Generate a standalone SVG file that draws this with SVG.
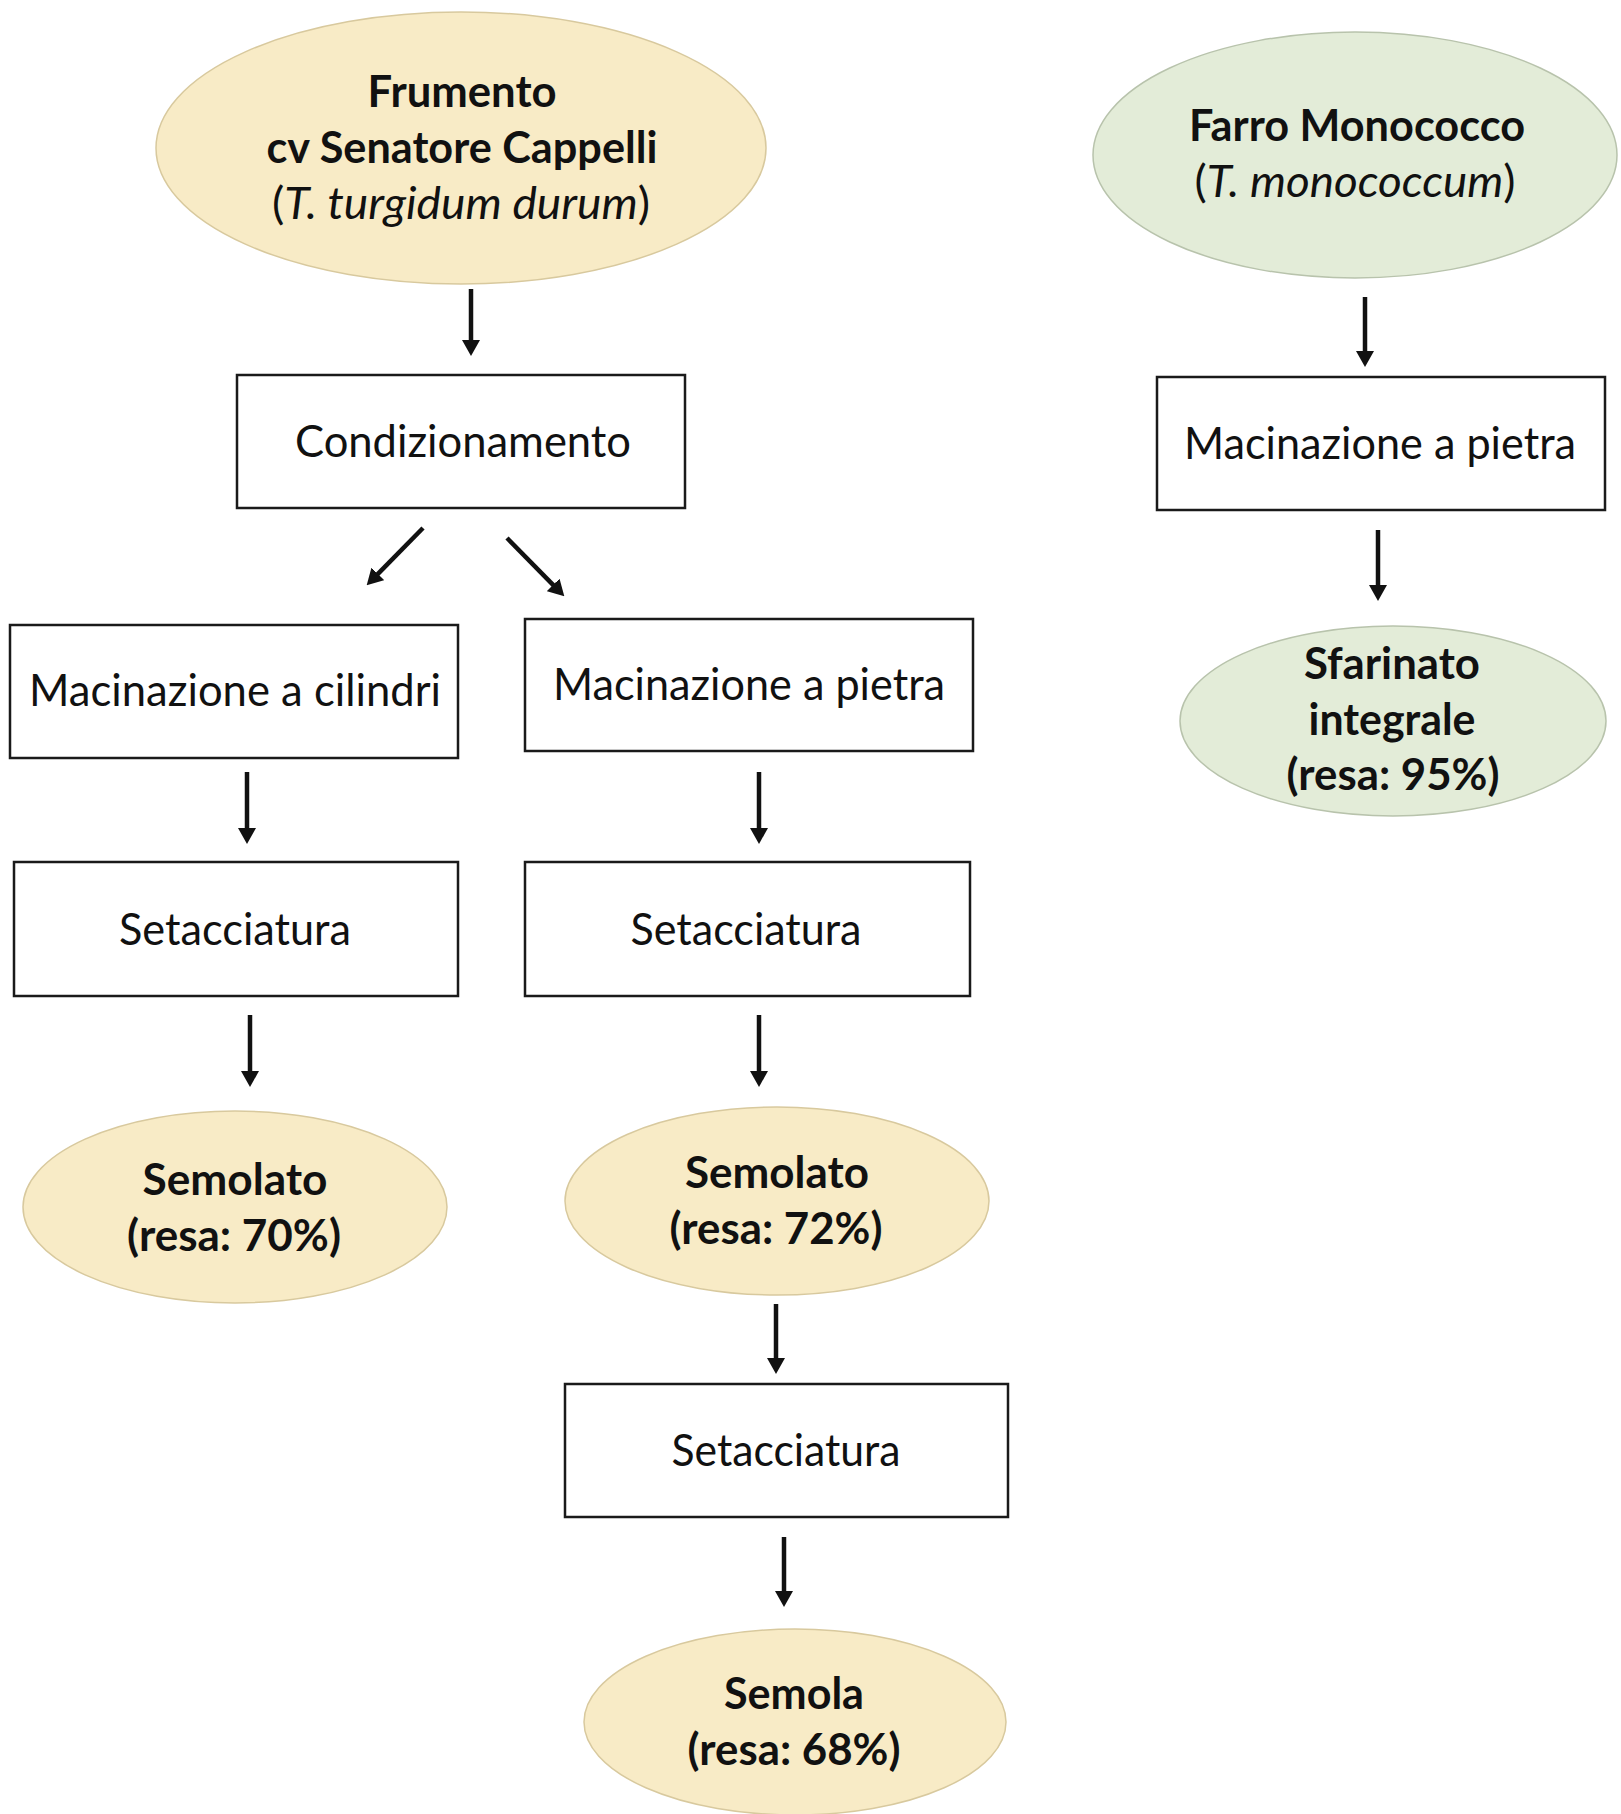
<svg xmlns="http://www.w3.org/2000/svg" width="1621" height="1814" viewBox="0 0 1621 1814">
<defs>
<style>
.box{fill:#ffffff;stroke:#1a1a1a;stroke-width:2.5}
.yel{fill:#F8EBC6;stroke:#D8C99E;stroke-width:1.5}
.grn{fill:#E3ECD8;stroke:#B8C3AC;stroke-width:1.5}
.t{font-family:Lato,"Open Sans","Liberation Sans",sans-serif;font-size:44px;fill:#111;text-anchor:middle}
.b{font-weight:bold}
.i{font-style:italic}
.arr{stroke:#111;stroke-width:4.5;fill:none;marker-end:url(#ah)}
</style>
<marker id="ah" viewBox="0 0 16 18" refX="1" refY="9" markerWidth="16" markerHeight="18" markerUnits="userSpaceOnUse" orient="auto">
<path d="M0,0 L16,9 L0,18 z" fill="#111"/>
</marker>
</defs>
<rect width="1621" height="1814" fill="#ffffff"/>

<g id="frumento">
<ellipse class="yel" cx="461" cy="148" rx="305" ry="136"/>
<text class="t b" x="462" y="107" textLength="189" lengthAdjust="spacingAndGlyphs">Frumento</text>
<text class="t b" x="462" y="163" textLength="391" lengthAdjust="spacingAndGlyphs">cv Senatore Cappelli</text>
<text class="t" x="461" y="219" textLength="378" lengthAdjust="spacingAndGlyphs">(<tspan class="i">T. turgidum durum</tspan>)</text>
</g>

<g id="farro">
<ellipse class="grn" cx="1355" cy="155" rx="262" ry="123"/>
<text class="t b" x="1357" y="141" textLength="336" lengthAdjust="spacingAndGlyphs">Farro Monococco</text>
<text class="t" x="1355" y="197" textLength="321" lengthAdjust="spacingAndGlyphs">(<tspan class="i">T. monococcum</tspan>)</text>
</g>

<g id="condizionamento">
<rect class="box" x="237" y="375" width="448" height="133"/>
<text class="t" x="463" y="457" textLength="336" lengthAdjust="spacingAndGlyphs">Condizionamento</text>
</g>

<g id="mac_cilindri">
<rect class="box" x="10" y="625" width="448" height="133"/>
<text class="t" x="235" y="706" textLength="412" lengthAdjust="spacingAndGlyphs">Macinazione a cilindri</text>
</g>

<g id="mac_pietra_1">
<rect class="box" x="525" y="619" width="448" height="132"/>
<text class="t" x="749" y="700" textLength="392" lengthAdjust="spacingAndGlyphs">Macinazione a pietra</text>
</g>

<g id="setacciatura_1">
<rect class="box" x="14" y="862" width="444" height="134"/>
<text class="t" x="235" y="945" textLength="232" lengthAdjust="spacingAndGlyphs">Setacciatura</text>
</g>

<g id="setacciatura_2">
<rect class="box" x="525" y="862" width="445" height="134"/>
<text class="t" x="746" y="945" textLength="231" lengthAdjust="spacingAndGlyphs">Setacciatura</text>
</g>

<g id="semolato_70">
<ellipse class="yel" cx="235" cy="1207" rx="212" ry="96"/>
<text class="t b" x="235" y="1195" textLength="185" lengthAdjust="spacingAndGlyphs">Semolato</text>
<text class="t b" x="234" y="1251" textLength="214" lengthAdjust="spacingAndGlyphs">(resa: 70%)</text>
</g>

<g id="semolato_72">
<ellipse class="yel" cx="777" cy="1201" rx="212" ry="94"/>
<text class="t b" x="777" y="1188" textLength="184" lengthAdjust="spacingAndGlyphs">Semolato</text>
<text class="t b" x="776" y="1244" textLength="213" lengthAdjust="spacingAndGlyphs">(resa: 72%)</text>
</g>

<g id="setacciatura_3">
<rect class="box" x="565" y="1384" width="443" height="133"/>
<text class="t" x="786" y="1466" textLength="229" lengthAdjust="spacingAndGlyphs">Setacciatura</text>
</g>

<g id="semola">
<ellipse class="yel" cx="795" cy="1722" rx="211" ry="93"/>
<text class="t b" x="794" y="1709" textLength="140" lengthAdjust="spacingAndGlyphs">Semola</text>
<text class="t b" x="794" y="1765" textLength="213" lengthAdjust="spacingAndGlyphs">(resa: 68%)</text>
</g>

<g id="mac_pietra_2">
<rect class="box" x="1157" y="377" width="448" height="133"/>
<text class="t" x="1380" y="459" textLength="392" lengthAdjust="spacingAndGlyphs">Macinazione a pietra</text>
</g>

<g id="sfarinato">
<ellipse class="grn" cx="1393" cy="721" rx="213" ry="95"/>
<text class="t b" x="1392" y="679" textLength="176" lengthAdjust="spacingAndGlyphs">Sfarinato</text>
<text class="t b" x="1392" y="735" textLength="167" lengthAdjust="spacingAndGlyphs">integrale</text>
<text class="t b" x="1393" y="790" textLength="213" lengthAdjust="spacingAndGlyphs">(resa: 95%)</text>
</g>

<g id="connectors">
<line class="arr" x1="471" y1="289" x2="471" y2="341"/>
<line class="arr" x1="423" y1="528" x2="377.2" y2="574.6"/>
<line class="arr" x1="507" y1="538" x2="553.8" y2="585.6"/>
<line class="arr" x1="247" y1="772" x2="247" y2="829"/>
<line class="arr" x1="759" y1="772" x2="759" y2="829"/>
<line class="arr" x1="250" y1="1015" x2="250" y2="1072"/>
<line class="arr" x1="759" y1="1015" x2="759" y2="1072"/>
<line class="arr" x1="776" y1="1304" x2="776" y2="1359"/>
<line class="arr" x1="784" y1="1537" x2="784" y2="1592"/>
<line class="arr" x1="1365" y1="297" x2="1365" y2="352"/>
<line class="arr" x1="1378" y1="530" x2="1378" y2="586"/>
</g>
</svg>
